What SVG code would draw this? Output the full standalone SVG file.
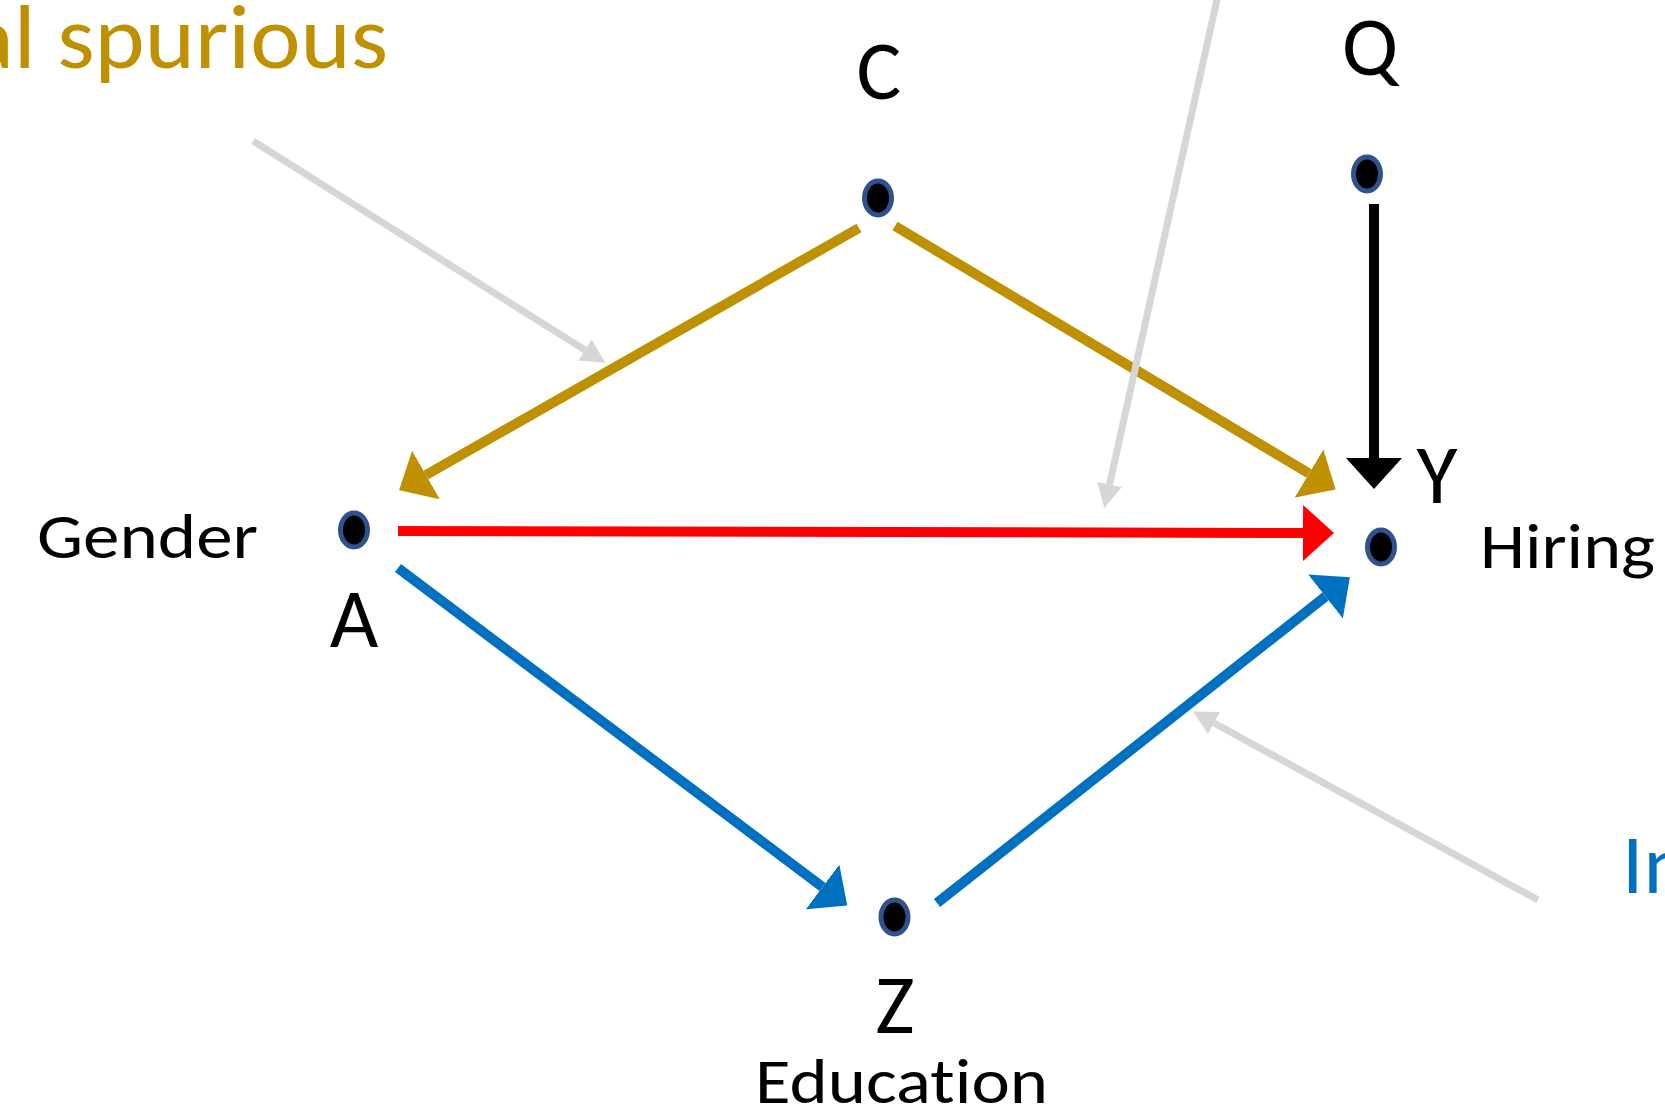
<svg xmlns="http://www.w3.org/2000/svg" width="1665" height="1113" viewBox="0 0 1665 1113">
<style>
text{font-variant-ligatures:none}
.lbl{font-family:Carlito,Lato,"Liberation Sans",sans-serif;fill:#000}
.big{font-size:84px}
.word{font-size:64px}
.node{fill:#000;stroke:#2F528F;stroke-width:5}
.edge{fill:none;stroke-width:10}
.gray{fill:none;stroke:#D6D6D6;stroke-width:7}
</style>
<defs>
<marker id="hGold" markerUnits="userSpaceOnUse" viewBox="0 -28 31 56" refX="0" refY="0" markerWidth="31" markerHeight="56" orient="auto"><path d="M0,-28 L31,0 L0,28 z" fill="#BF9000"/></marker>
<marker id="hRed" markerUnits="userSpaceOnUse" viewBox="0 -28 31 56" refX="0" refY="0" markerWidth="31" markerHeight="56" orient="auto"><path d="M0,-28 L31,0 L0,28 z" fill="#FF0000"/></marker>
<marker id="hBlue" markerUnits="userSpaceOnUse" viewBox="0 -28 31 56" refX="0" refY="0" markerWidth="31" markerHeight="56" orient="auto"><path d="M0,-28 L31,0 L0,28 z" fill="#0070C0"/></marker>
<marker id="hBlack" markerUnits="userSpaceOnUse" viewBox="0 -28 31 56" refX="0" refY="0" markerWidth="31" markerHeight="56" orient="auto"><path d="M0,-28 L31,0 L0,28 z" fill="#000"/></marker>
<marker id="hGray" markerUnits="userSpaceOnUse" viewBox="0 -13 24 26" refX="0" refY="0" markerWidth="24" markerHeight="26" orient="auto"><path d="M0,-12.5 L24,0 L0,12.5 z" fill="#D6D6D6"/></marker>
</defs>
<rect width="1665" height="1113" fill="#fff"/>
<g id="annotations">
<text x="-32" y="68" textLength="420" lengthAdjust="spacingAndGlyphs" style="font-family:Carlito,Lato,'Liberation Sans',sans-serif;font-size:90px;fill:#BF9000">al spurious</text>
<text x="1622" y="893" style="font-family:Carlito,Lato,'Liberation Sans',sans-serif;font-size:85px;fill:#0070C0">In</text>
</g>
<g id="connectors">
<line class="edge" x1="859" y1="228" x2="426" y2="475" stroke="#BF9000" marker-end="url(#hGold)"/>
<line class="edge" x1="895" y1="226" x2="1309" y2="473.5" stroke="#BF9000" marker-end="url(#hGold)"/>
<line class="edge" x1="398" y1="531" x2="1303" y2="533" stroke="#FF0000" marker-end="url(#hRed)"/>
<line class="edge" x1="398" y1="568" x2="822.5" y2="887" stroke="#0070C0" marker-end="url(#hBlue)"/>
<line class="edge" x1="937" y1="903" x2="1325.5" y2="596.5" stroke="#0070C0" marker-end="url(#hBlue)"/>
<line class="edge" x1="1374" y1="204" x2="1374" y2="458" stroke="#000" marker-end="url(#hBlack)"/>
<line class="gray" x1="253" y1="141" x2="585" y2="350" marker-end="url(#hGray)"/>
<line class="gray" x1="1218" y1="-5" x2="1109.5" y2="484.5" marker-end="url(#hGray)"/>
<line class="gray" x1="1538" y1="900" x2="1214" y2="723" marker-end="url(#hGray)"/>
</g>
<g id="node-C">
<ellipse class="node" cx="878" cy="198" rx="13.5" ry="17"/>
<text class="lbl big" x="879" y="99" text-anchor="middle">C</text>
</g>
<g id="node-Q">
<ellipse class="node" cx="1367" cy="174" rx="13.5" ry="17"/>
<text class="lbl big" x="1370" y="75" text-anchor="middle">Q</text>
</g>
<g id="node-A">
<ellipse class="node" cx="354" cy="530" rx="13.5" ry="17"/>
<text class="lbl big" x="354" y="647" text-anchor="middle">A</text>
<text class="lbl word" x="37" y="558" textLength="221" lengthAdjust="spacingAndGlyphs">Gender</text>
</g>
<g id="node-Y">
<ellipse class="node" cx="1381" cy="547" rx="13.5" ry="17"/>
<text class="lbl big" x="1437" y="503" text-anchor="middle">Y</text>
<text class="lbl word" x="1480" y="568" textLength="175" lengthAdjust="spacingAndGlyphs">Hiring</text>
</g>
<g id="node-Z">
<ellipse class="node" cx="894.5" cy="917" rx="13.5" ry="17"/>
<text class="lbl big" x="895" y="1033" text-anchor="middle">Z</text>
<text class="lbl word" x="755" y="1103" textLength="293" lengthAdjust="spacingAndGlyphs">Education</text>
</g>
</svg>
